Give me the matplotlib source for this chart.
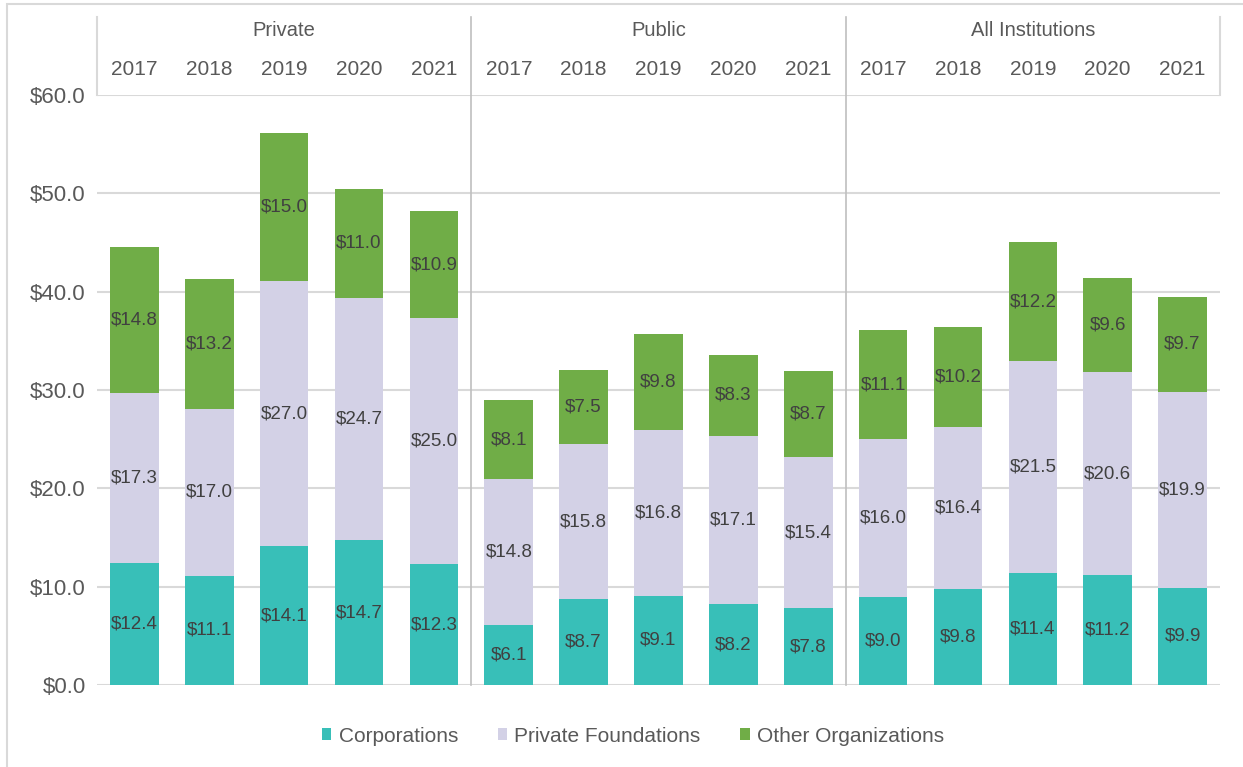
import numpy as np
import matplotlib.pyplot as plt
from matplotlib.patches import Rectangle

plt.rcParams["font.family"] = ["Liberation Sans", "DejaVu Sans"]

groups = ["Private", "Public", "All Institutions"]
years = ["2017", "2018", "2019", "2020", "2021"]

corporations = [12.4, 11.1, 14.1, 14.7, 12.3,
                6.1, 8.7, 9.1, 8.2, 7.8,
                9.0, 9.8, 11.4, 11.2, 9.9]
private_foundations = [17.3, 17.0, 27.0, 24.7, 25.0,
                       14.8, 15.8, 16.8, 17.1, 15.4,
                       16.0, 16.4, 21.5, 20.6, 19.9]
other_orgs = [14.8, 13.2, 15.0, 11.0, 10.9,
              8.1, 7.5, 9.8, 8.3, 8.7,
              11.1, 10.2, 12.2, 9.6, 9.7]

series = [
    ("Corporations", corporations, "#38BFB8"),
    ("Private Foundations", private_foundations, "#D3D1E6"),
    ("Other Organizations", other_orgs, "#70AD47"),
]

W, H = 1243, 767
fig = plt.figure(figsize=(W / 100, H / 100), dpi=100)
ax = fig.add_axes([97 / W, (H - 685) / H, (1220 - 97) / W, (685 - 95) / H])

x = np.arange(len(corporations))
bottom = np.zeros(len(x))
for name, vals, color in series:
    vals = np.array(vals)
    ax.bar(x, vals, 0.65, bottom=bottom, color=color, label=name, zorder=3)
    for xi, b, v in zip(x, bottom, vals):
        ax.text(xi, b + v / 2, f"${v:.1f}", ha="center", va="center",
                fontsize=13.5, color="#404040", zorder=4)
    bottom += vals

ax.set_xlim(-0.5, len(x) - 0.5)
ax.set_ylim(0, 60)
ax.set_yticks(np.arange(0, 61, 10))
ax.set_yticklabels([f"${v:.1f}" for v in np.arange(0, 61, 10)])
ax.tick_params(axis="y", length=0, pad=8, labelsize=16, labelcolor="#595959")
ax.set_xticks([])
ax.grid(axis="y", color="#D9D9D9", lw=1.5, zorder=0)
for s in ax.spines.values():
    s.set_visible(False)

trans = ax.get_xaxis_transform()
# header labels
for i, yr in enumerate(years * 3):
    ax.text(i, 1.0424, yr, transform=trans, ha="center", va="center",
            fontsize=15, color="#595959", clip_on=False)
for g, name in enumerate(groups):
    ax.text(g * 5 + 2, 1.1085, name, transform=trans, ha="center", va="center",
            fontsize=14.5, color="#595959", clip_on=False)

# header boundary lines and group separators
for xb in [-0.5, 14.5]:
    ax.plot([xb, xb], [1.0, 1.132], transform=trans, color="#D9D9D9",
            lw=1.5, clip_on=False)
for xb in [4.5, 9.5]:
    ax.plot([xb, xb], [0.0, 1.132], transform=trans, color="#BFBFBF",
            lw=1.2, clip_on=False, zorder=2)

ax.legend(loc="center", bbox_to_anchor=(633 / W, 1 - 736 / H),
          bbox_transform=fig.transFigure, ncol=3, frameon=False,
          fontsize=15, labelcolor="#595959", handlelength=0.45,
          handleheight=0.45, handletextpad=0.35, columnspacing=1.9)

# outer chart border
fig.patches.append(Rectangle((7 / W, -0.05), 1.1, (H - 4) / H + 0.05,
                             transform=fig.transFigure, fill=False,
                             ec="#D9D9D9", lw=1.5))

fig.savefig("out.png", dpi=100)
